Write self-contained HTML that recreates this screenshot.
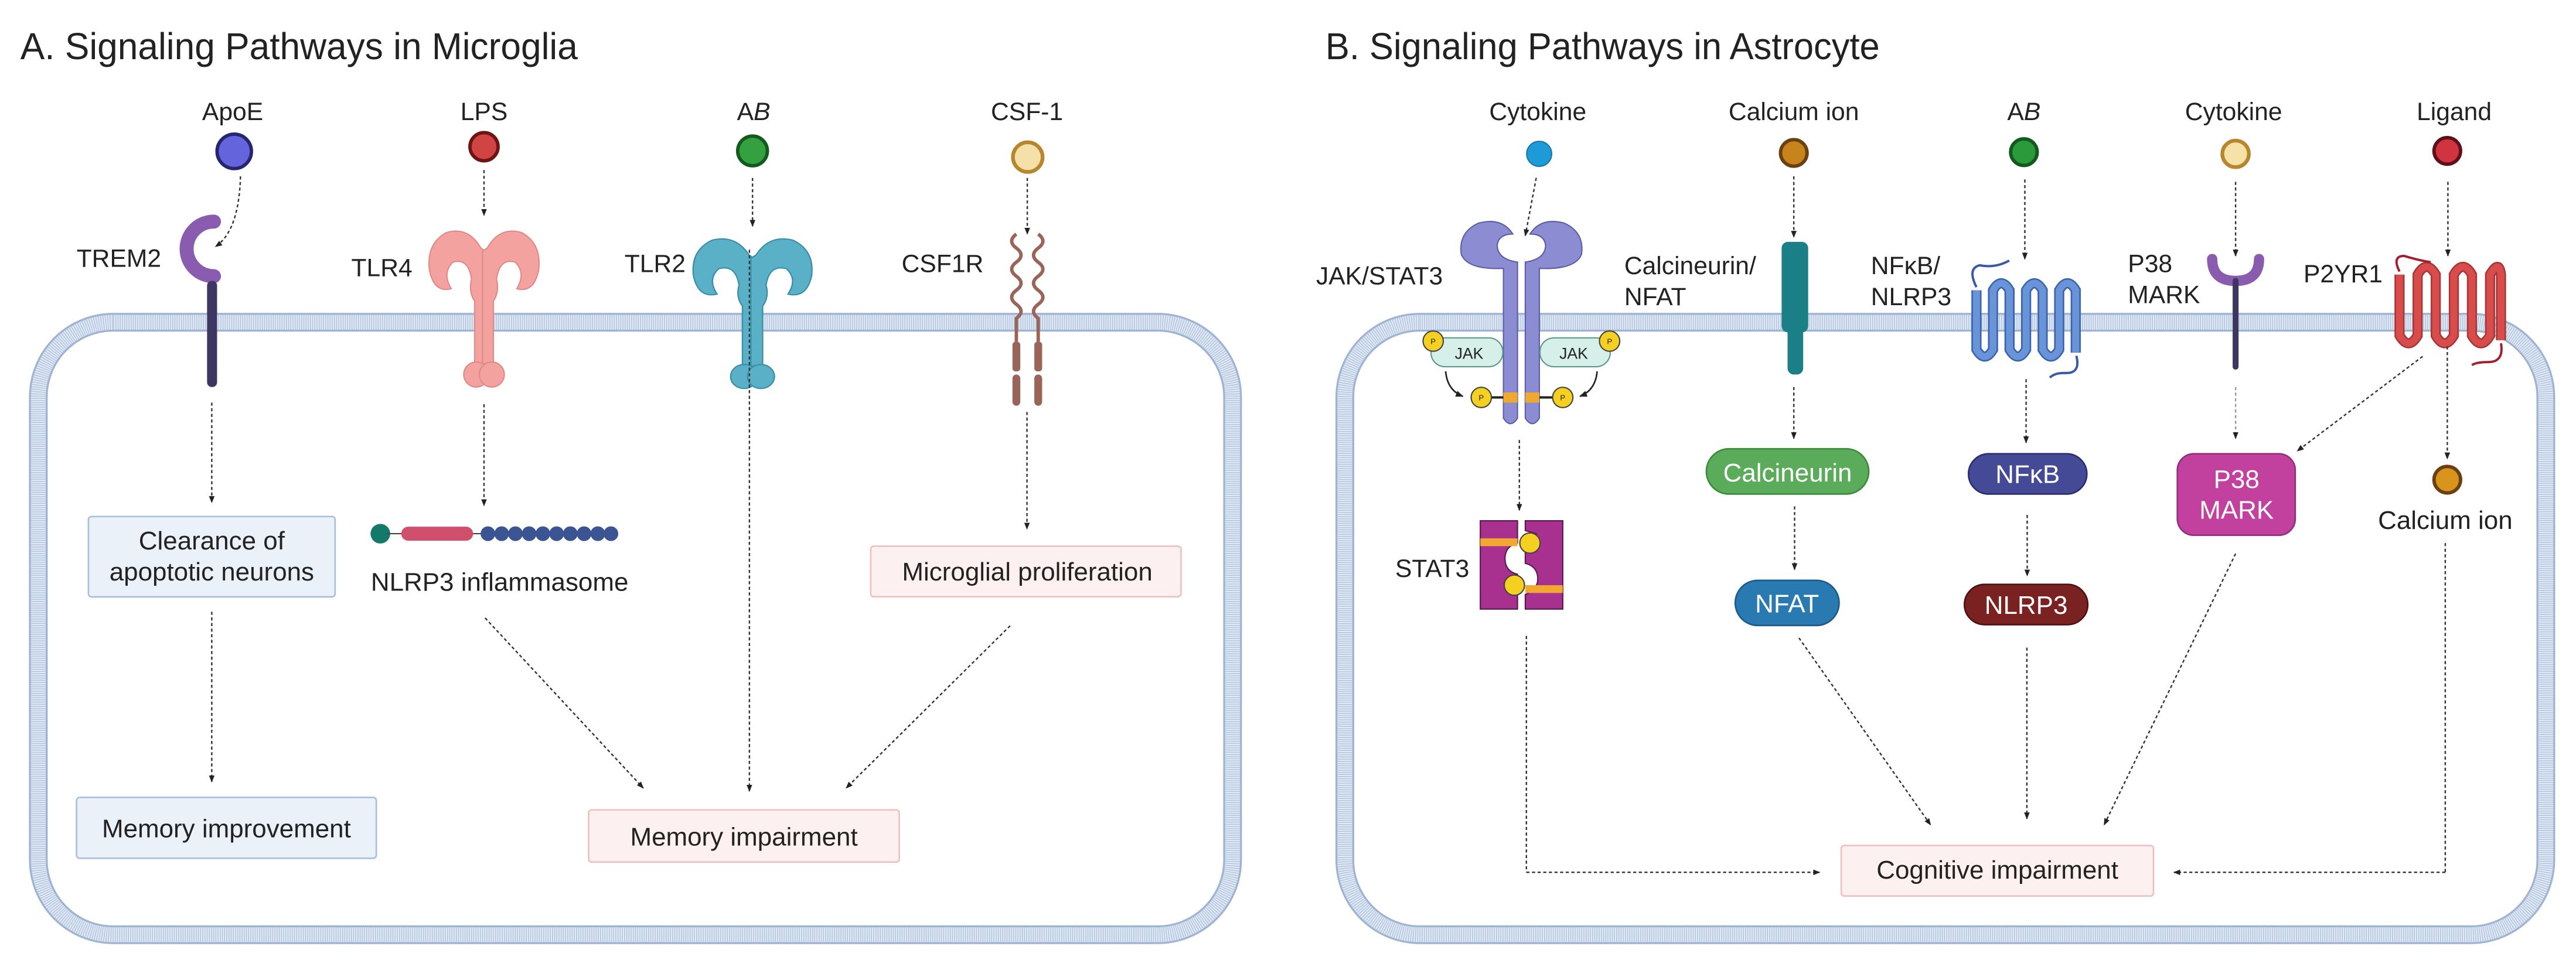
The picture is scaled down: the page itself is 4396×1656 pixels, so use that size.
<!DOCTYPE html>
<html><head><meta charset="utf-8"><style>
html,body{margin:0;padding:0;background:#fff}
svg{display:block}
text{font-family:"Liberation Sans",sans-serif;fill:#222}
</style></head><body>
<svg width="4396" height="1656" viewBox="0 0 1650 621.6" xmlns="http://www.w3.org/2000/svg">
<defs>
<marker id="ah" viewBox="0 0 10 10" refX="9" refY="5" markerWidth="5" markerHeight="5" orient="auto"><path d="M0,1 L10,5 L0,9 z" fill="#222"/></marker>
<g id="tlr">
<path d="M-2,12 Q-10,-2 -24,2 Q-37,9 -35,26 Q-32,41 -21,38 Q-27,28 -20,21 Q-10,18 -8,32 Q-10,40 -6,46 L-6,86 L1,86 L1,14 Z"/>
<path d="M2,12 Q10,-2 24,2 Q37,9 35,26 Q32,41 21,38 Q27,28 20,21 Q10,18 8,32 Q10,40 6,46 L6,86 L-1,86 L-1,14 Z"/>
<circle cx="-5" cy="93" r="8"/><circle cx="5" cy="93" r="8"/>
</g>
</defs>
<style>
.d{stroke:#333;stroke-width:0.9;stroke-dasharray:2 1.6;fill:none;marker-end:url(#ah)}
.dl{stroke:#333;stroke-width:0.9;stroke-dasharray:2 1.6;fill:none}
.lab{font-size:16px}
.c{font-size:16px;text-anchor:middle}
.bt{font-size:16.5px;text-anchor:middle}
.wt{font-size:16.5px;text-anchor:middle;fill:#fff}
</style>

<!-- Titles -->
<text x="13" y="38" font-size="24" textLength="357" lengthAdjust="spacingAndGlyphs">A. Signaling Pathways in Microglia</text>
<text x="849" y="38" font-size="24" textLength="355" lengthAdjust="spacingAndGlyphs">B. Signaling Pathways in Astrocyte</text>

<!-- Cell membranes -->
<g fill="none">
<rect x="24.5" y="206.5" width="765" height="392.5" rx="48" stroke="#9fb3d3" stroke-width="12"/>
<rect x="24.5" y="206.5" width="765" height="392.5" rx="48" stroke="#e2eaf5" stroke-width="9.5"/>
<rect x="24.5" y="206.5" width="765" height="392.5" rx="48" stroke="#b4c5de" stroke-width="9.5" stroke-dasharray="0.6 0.8"/>
<rect x="861.4" y="206.5" width="769.3" height="392.5" rx="48" stroke="#9fb3d3" stroke-width="12"/>
<rect x="861.4" y="206.5" width="769.3" height="392.5" rx="48" stroke="#e2eaf5" stroke-width="9.5"/>
<rect x="861.4" y="206.5" width="769.3" height="392.5" rx="48" stroke="#b4c5de" stroke-width="9.5" stroke-dasharray="0.6 0.8"/>
</g>

<!-- ===== Panel A ===== -->
<text x="149" y="77" class="c">ApoE</text>
<circle cx="150" cy="97" r="11" fill="#6464dc" stroke="#262670" stroke-width="2.2"/>
<path class="d" d="M154,113 Q153,148 138,158"/>
<text x="49" y="171" class="lab">TREM2</text>
<path d="M137,142 A17.5,17.5 0 1,0 137,177" fill="none" stroke="#8a5cb0" stroke-width="9" stroke-linecap="round"/>
<rect x="132.6" y="180" width="6.4" height="68" rx="3" fill="#3d3660"/>
<path class="d" d="M135.6,258 L135.6,322"/>
<rect x="56.6" y="331" width="158" height="51.5" rx="2" fill="#eaf1f9" stroke="#a9c0dc" stroke-width="1"/>
<text x="135.6" y="352" class="bt">Clearance of</text>
<text x="135.6" y="372" class="bt">apoptotic neurons</text>
<path class="d" d="M135.6,392 L135.6,501"/>
<rect x="49" y="511" width="192" height="39" rx="2" fill="#eaf1f9" stroke="#a9c0dc" stroke-width="1"/>
<text x="145" y="536.5" class="bt">Memory improvement</text>

<text x="310" y="77" class="c">LPS</text>
<circle cx="310" cy="94" r="9" fill="#d04444" stroke="#6e1414" stroke-width="2.2"/>
<path class="d" d="M310,109 L310,138"/>
<text x="225" y="177" class="lab">TLR4</text>
<g transform="translate(310,147)" fill="#f3a2a0" stroke="#e08a88" stroke-width="0.8"><use href="#tlr"/></g>
<path class="d" d="M310,259 L310,324"/>
<circle cx="243.6" cy="342" r="6.3" fill="#137a6a"/>
<line x1="248" y1="342" x2="390" y2="342" stroke="#444" stroke-width="0.8"/>
<rect x="257" y="337.5" width="46" height="9" rx="4.5" fill="#d0506c"/>
<g fill="#3a5592"><circle cx="312.5" cy="342" r="4.7"/><circle cx="321.3" cy="342" r="4.7"/><circle cx="330.1" cy="342" r="4.7"/><circle cx="338.9" cy="342" r="4.7"/><circle cx="347.7" cy="342" r="4.7"/><circle cx="356.5" cy="342" r="4.7"/><circle cx="365.3" cy="342" r="4.7"/><circle cx="374.1" cy="342" r="4.7"/><circle cx="382.9" cy="342" r="4.7"/><circle cx="391.3" cy="342" r="4.7"/></g>
<text x="320" y="378.5" class="bt">NLRP3 inflammasome</text>
<path class="d" d="M310.7,396 L412,505"/>

<text x="482.7" y="77" class="c">A<tspan font-style="italic">B</tspan></text>
<circle cx="482" cy="96.7" r="9.5" fill="#34a040" stroke="#135a1e" stroke-width="2.2"/>
<path class="d" d="M482,114 L482,145"/>
<text x="400" y="174.4" class="lab">TLR2</text>
<g transform="translate(482,152) scale(1.08,0.96)" fill="#5ab0c6" stroke="#3a8ea6" stroke-width="0.8"><use href="#tlr"/></g>
<path class="d" d="M480,160 L480,507"/>
<rect x="377" y="519" width="199" height="33.4" rx="2" fill="#fdf0f0" stroke="#f0c0c0" stroke-width="1"/>
<text x="476.5" y="541.8" class="bt">Memory impairment</text>

<text x="657.8" y="77" class="c">CSF-1</text>
<circle cx="658.3" cy="100.7" r="9.5" fill="#f6e0aa" stroke="#b8862c" stroke-width="2.4"/>
<path class="d" d="M658,114 L658,150"/>
<text x="577.5" y="174.4" class="lab">CSF1R</text>
<path d="M651,150 q-6,4.5 0,9 q6,4.5 0,9 q-6,4.5 0,9 q6,4.5 0,9 q-6,4.5 0,9 q6,4.5 0,9 L651,219 M665,150 q6,4.5 0,9 q-6,4.5 0,9 q6,4.5 0,9 q-6,4.5 0,9 q6,4.5 0,9 q-6,4.5 0,9 L665,219" fill="none" stroke="#9a6558" stroke-width="2.2"/>
<rect x="648.5" y="219" width="5" height="19" rx="2" fill="#9a6558"/>
<rect x="662.5" y="219" width="5" height="19" rx="2" fill="#9a6558"/>
<rect x="648.5" y="240" width="5" height="20" rx="2.5" fill="#9a6558"/>
<rect x="662.5" y="240" width="5" height="20" rx="2.5" fill="#9a6558"/>
<path class="d" d="M657.8,264 L657.8,339"/>
<rect x="557.7" y="350" width="198.8" height="32.4" rx="2" fill="#fdf0f0" stroke="#f0c0c0" stroke-width="1"/>
<text x="658" y="372" class="bt">Microglial proliferation</text>
<path class="d" d="M647,401 L542,505"/>

<!-- ===== Panel B ===== -->
<text x="985" y="77" class="c">Cytokine</text>
<circle cx="985.9" cy="98.6" r="8" fill="#1e9ad6" stroke="#1778b0" stroke-width="0.8"/>
<path class="d" d="M984,114 L977,151"/>
<text x="843" y="182.3" class="lab">JAK/STAT3</text>
<g fill="#8c8cd2" stroke="#5e5ea8" stroke-width="0.8">
<path d="M969,150 Q962,139 947,143 Q934,149 936,163 Q940,173 963,172 L963,268 Q967.5,275 972,268 L972,168 Q959,166 959,157 Q960,150 969,150 Z"/>
<path d="M980,150 Q987,139 1002,143 Q1015,149 1013,163 Q1009,173 986,172 L986,268 Q981.5,275 977,268 L977,168 Q990,166 990,157 Q989,150 980,150 Z"/>
</g>
<rect x="916.6" y="216.5" width="46" height="18.5" rx="9" fill="#d6efe8" stroke="#5a9a8a" stroke-width="0.8"/>
<rect x="986.4" y="216.5" width="45" height="18.5" rx="9" fill="#d6efe8" stroke="#5a9a8a" stroke-width="0.8"/>
<text x="941" y="230" font-size="10" text-anchor="middle">JAK</text>
<text x="1008" y="230" font-size="10" text-anchor="middle">JAK</text>
<line x1="955" y1="254.7" x2="963" y2="254.7" stroke="#222" stroke-width="1.5"/>
<line x1="986" y1="254.7" x2="995" y2="254.7" stroke="#222" stroke-width="1.5"/>
<rect x="963" y="251.5" width="9" height="6.5" fill="#f0a830"/><rect x="977" y="251.5" width="9" height="6.5" fill="#f0a830"/>
<g fill="#f5d020" stroke="#444" stroke-width="0.8">
<circle cx="918" cy="218.6" r="6.5"/><circle cx="1031" cy="218.6" r="6.5"/>
<circle cx="948.8" cy="254.7" r="6.5"/><circle cx="1001" cy="254.7" r="6.5"/>
</g>
<g font-size="5" text-anchor="middle"><text x="918" y="220.5">P</text><text x="1031" y="220.5">P</text><text x="948.8" y="256.6">P</text><text x="1001" y="256.6">P</text></g>
<path d="M926,238 Q927,250 937,254" fill="none" stroke="#222" stroke-width="1" marker-end="url(#ah)"/>
<path d="M1023,238 Q1022,250 1012,254" fill="none" stroke="#222" stroke-width="1" marker-end="url(#ah)"/>
<path class="d" d="M973.2,282 L973.2,327"/>
<text x="893.7" y="369.8" class="lab">STAT3</text>
<path d="M948.2,333.7 L972,333.7 L972,348 Q964,350 964,358 Q964,366 972,368 L972,390.3 L948.2,390.3 Z" fill="#a8308e" stroke="#5a1850" stroke-width="0.8"/>
<path d="M977,333.7 L1001,333.7 L1001,390.3 L977,390.3 L977,381 Q985,378 985,371 Q985,363 977,361 L977,346 Q984,343 984,342 L977,340 Z" fill="#a8308e" stroke="#5a1850" stroke-width="0.8"/>
<rect x="948.2" y="345" width="23.8" height="5" fill="#f0a830"/><rect x="977" y="375" width="24" height="5" fill="#f0a830"/>
<circle cx="980" cy="348" r="6.5" fill="#f5d020" stroke="#444" stroke-width="0.8"/>
<circle cx="970" cy="375" r="6.5" fill="#f5d020" stroke="#444" stroke-width="0.8"/>
<path class="dl" d="M977.7,407.5 L977.7,559"/>
<path class="d" d="M977.7,559 L1165.5,559"/>

<text x="1149" y="77" class="c">Calcium ion</text>
<circle cx="1149" cy="98" r="8.5" fill="#c8841c" stroke="#6a4010" stroke-width="2.2"/>
<path class="d" d="M1149,113 L1149,152"/>
<text x="1040.4" y="175.7" class="lab">Calcineurin/</text>
<text x="1040.4" y="195.5" class="lab">NFAT</text>
<rect x="1141.2" y="155" width="17" height="58" rx="4" fill="#1a7f86"/>
<rect x="1145" y="208" width="10" height="32" rx="4" fill="#1a7f86"/>
<path class="d" d="M1149,248 L1149,281"/>
<rect x="1093" y="287.6" width="104" height="29" rx="14.5" fill="#5aac5a" stroke="#3a8a3a" stroke-width="1"/>
<text x="1145" y="308.5" class="wt">Calcineurin</text>
<path class="d" d="M1149.5,324.5 L1149.5,365"/>
<rect x="1111.5" y="371.9" width="66.5" height="28.9" rx="14.4" fill="#2a7ab2" stroke="#1a5a8a" stroke-width="1"/>
<text x="1144.7" y="392.5" class="wt">NFAT</text>
<path class="d" d="M1152.3,408.8 L1236.6,528.6"/>

<text x="1296.4" y="77" class="c">A<tspan font-style="italic">B</tspan></text>
<circle cx="1296.4" cy="97.5" r="8.5" fill="#2a9a3a" stroke="#135a1e" stroke-width="2.2"/>
<path class="d" d="M1297,115 L1297,166"/>
<text x="1198.4" y="175.7" class="lab">NFκB/</text>
<text x="1198.4" y="195.5" class="lab">NLRP3</text>
<path d="M1266,186 L1266,224 Q1271.3,233 1276.6,224 L1276.6,186 Q1281.9,177 1287.2,186 L1287.2,224 Q1292.5,233 1297.8,224 L1297.8,186 Q1303.1,177 1308.4,186 L1308.4,224 Q1313.7,233 1319,224 L1319,186 Q1324.3,177 1329.6,186 L1329.6,226" fill="none" stroke="#3a64b0" stroke-width="6.5"/>
<path d="M1266,186 L1266,224 Q1271.3,233 1276.6,224 L1276.6,186 Q1281.9,177 1287.2,186 L1287.2,224 Q1292.5,233 1297.8,224 L1297.8,186 Q1303.1,177 1308.4,186 L1308.4,224 Q1313.7,233 1319,224 L1319,186 Q1324.3,177 1329.6,186 L1329.6,226" fill="none" stroke="#6a94d8" stroke-width="4.5"/>
<path d="M1266,184 Q1260,172 1268,170 Q1278,172 1287,167" fill="none" stroke="#3a5aa8" stroke-width="1.5"/>
<path d="M1330,228 Q1333,240 1322,239 Q1316,239 1313,242" fill="none" stroke="#3a5aa8" stroke-width="1.5"/>
<path class="d" d="M1297.8,243 L1297.8,283.7"/>
<rect x="1260.9" y="290.8" width="75.8" height="25.8" rx="12.9" fill="#454a96" stroke="#2a2e70" stroke-width="1"/>
<text x="1298.8" y="309.5" class="wt">NFκB</text>
<path class="d" d="M1298.5,330 L1298.5,369"/>
<rect x="1258.3" y="374.5" width="79" height="25.8" rx="12.9" fill="#7a2222" stroke="#501010" stroke-width="1"/>
<text x="1297.8" y="393.3" class="wt">NLRP3</text>
<path class="d" d="M1298.3,415 L1298.3,524.7"/>

<text x="1430.7" y="77" class="c">Cytokine</text>
<circle cx="1432" cy="98.6" r="8.5" fill="#f6e2a8" stroke="#b8862c" stroke-width="2.4"/>
<path class="d" d="M1432,116.5 L1432,164"/>
<text x="1363" y="174.4" class="lab">P38</text>
<text x="1363" y="194.2" class="lab">MARK</text>
<path d="M1417,166 Q1417,180 1432,180 Q1447,180 1447,166" fill="none" stroke="#8a5cb0" stroke-width="6.6" stroke-linecap="round"/>
<line x1="1432" y1="180" x2="1432" y2="235" stroke="#3d3660" stroke-width="3.8" stroke-linecap="round"/>
<path class="d" d="M1432,248 L1432,281" style="stroke:#999"/>
<rect x="1394.7" y="290.8" width="75.5" height="52.2" rx="10.5" fill="#c2409e" stroke="#90307a" stroke-width="1"/>
<text x="1432.6" y="312.6" class="wt">P38</text>
<text x="1432.6" y="332.4" class="wt">MARK</text>
<path class="d" d="M1432,354.8 L1347.8,528.6"/>

<text x="1572" y="77" class="c">Ligand</text>
<circle cx="1567.6" cy="96.7" r="8.5" fill="#d03440" stroke="#601018" stroke-width="2.2"/>
<path class="d" d="M1568,116.5 L1568,164"/>
<text x="1475.5" y="181" class="lab">P2YR1</text>
<path d="M1537,176 L1537,215 Q1542.8,225 1548.6,215 L1548.6,176 Q1554.4,166 1560.2,176 L1560.2,215 Q1566,225 1571.8,215 L1571.8,176 Q1577.6,166 1583.4,176 L1583.4,215 Q1589.2,225 1595,215 L1595,176 Q1600.8,166 1602,176 L1602,218" fill="none" stroke="#a83838" stroke-width="6.5"/>
<path d="M1537,176 L1537,215 Q1542.8,225 1548.6,215 L1548.6,176 Q1554.4,166 1560.2,176 L1560.2,215 Q1566,225 1571.8,215 L1571.8,176 Q1577.6,166 1583.4,176 L1583.4,215 Q1589.2,225 1595,215 L1595,176 Q1600.8,166 1602,176 L1602,218" fill="none" stroke="#d84c4c" stroke-width="4.5"/>
<path d="M1537,174 Q1532,164 1540,164 Q1550,167 1557,168" fill="none" stroke="#a02030" stroke-width="1.5"/>
<path d="M1602,220 Q1604,232 1594,232 Q1586,232 1583.4,234" fill="none" stroke="#a02030" stroke-width="1.5"/>
<path class="d" d="M1551.8,228.4 L1471.5,289"/>
<path class="d" d="M1567.6,222 L1567.6,294"/>
<circle cx="1567.6" cy="307.4" r="8.5" fill="#d8941c" stroke="#6a4010" stroke-width="2.2"/>
<text x="1566.3" y="339" class="bt">Calcium ion</text>
<path class="dl" d="M1566.3,348 L1566.3,559"/>
<path class="d" d="M1566.3,559 L1392.5,559"/>

<rect x="1179.4" y="541.8" width="200" height="32.4" rx="2" fill="#fdf0f0" stroke="#f0c0c0" stroke-width="1"/>
<text x="1279.4" y="563" class="bt">Cognitive impairment</text>
</svg>
</body></html>
